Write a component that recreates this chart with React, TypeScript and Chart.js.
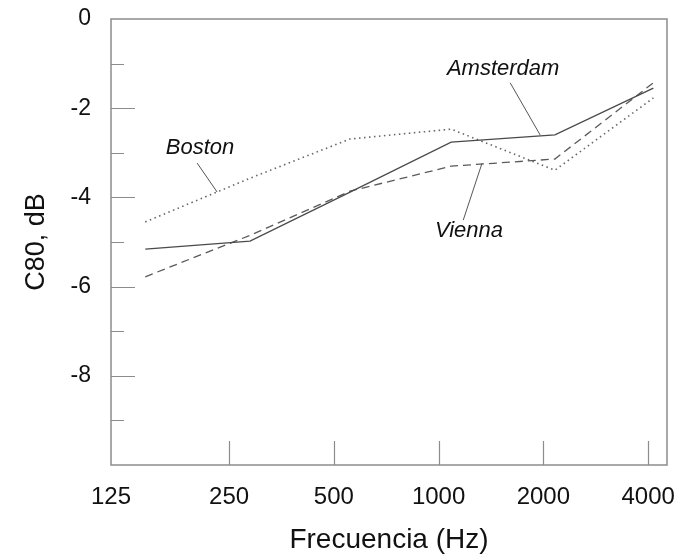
import React, { useEffect, useRef } from "react";
import { Chart, registerables } from "chart.js";

Chart.register(...registerables);

// Frequency tick labels and their positions on the octave axis
const tickLabels = ["125", "250", "500", "1000", "2000", "4000"];
const xMin = -0.127;
const xMax = 5.18;
const tickPositions = [xMin, 1, 2, 3, 4, 5];
const tickMarkPositions = [1, 2, 3, 4, 5];

// x positions of the plotted points (octave units)
const pointPositions = [0.2, 1.2, 2.155, 3.12, 4.11, 5.05];

// C80 values (dB)
const amsterdam = [-5.16, -4.98, -3.88, -2.76, -2.6, -1.55];
const vienna = [-5.78, -4.85, -3.86, -3.3, -3.14, -1.43];
const boston = [-4.55, -3.57, -2.69, -2.47, -3.39, -1.77];

// y ticks
const yMajor = [-2, -4, -6, -8];
const yMinor = [-1, -3, -5, -7, -9];

// labels with leader lines (data units)
const annLabels = ["Boston", "Amsterdam", "Vienna"];
const annTextX = [0.723, 3.616, 3.29];
const annTextY = [-2.89, -1.12, -4.75];
const annLineFromX = [0.695, 3.683, 3.415];
const annLineFromY = [-3.23, -1.43, -3.23];
const annLineToX = [0.886, 3.969, 3.235];
const annLineToY = [-3.88, -2.6, -4.51];

const FONT = "'Liberation Sans', Arial, sans-serif";

const framePlugin = {
  id: "frame",
  afterDraw(chart: any) {
    const { ctx, chartArea } = chart;
    const { left, right, top, bottom } = chartArea;
    const x = chart.scales.x;
    const y = chart.scales.y;
    ctx.save();
    ctx.strokeStyle = "#8c8c8c";
    ctx.lineWidth = 1.5;
    ctx.strokeRect(left, top, right - left, bottom - top);
    ctx.lineWidth = 1.2;
    ctx.beginPath();
    yMajor.forEach((v) => {
      const py = Math.round(y.getPixelForValue(v)) + 0.5;
      ctx.moveTo(left, py);
      ctx.lineTo(left + 24, py);
    });
    yMinor.forEach((v) => {
      const py = Math.round(y.getPixelForValue(v)) + 0.5;
      ctx.moveTo(left, py);
      ctx.lineTo(left + 13, py);
    });
    tickMarkPositions.forEach((v) => {
      const px = Math.round(x.getPixelForValue(v)) + 0.5;
      ctx.moveTo(px, bottom);
      ctx.lineTo(px, bottom - 24);
    });
    ctx.stroke();

    // annotations
    ctx.strokeStyle = "#555";
    ctx.lineWidth = 1;
    ctx.beginPath();
    annLabels.forEach((_, i) => {
      ctx.moveTo(x.getPixelForValue(annLineFromX[i]), y.getPixelForValue(annLineFromY[i]));
      ctx.lineTo(x.getPixelForValue(annLineToX[i]), y.getPixelForValue(annLineToY[i]));
    });
    ctx.stroke();
    ctx.fillStyle = "#111";
    ctx.font = `italic 22px ${FONT}`;
    ctx.textAlign = "center";
    ctx.textBaseline = "middle";
    annLabels.forEach((t, i) => {
      ctx.fillText(t, x.getPixelForValue(annTextX[i]), y.getPixelForValue(annTextY[i]));
    });
    ctx.restore();
  },
};

function toPoints(vals: number[]) {
  return vals.map((v, i) => ({ x: pointPositions[i], y: v }));
}

function zeroPad(s: any) {
  s.paddingTop = 0;
  s.paddingBottom = 0;
  s.paddingLeft = 0;
  s.paddingRight = 0;
}

export default function App() {
  const ref = useRef<HTMLCanvasElement | null>(null);
  useEffect(() => {
    if (!ref.current) return;
    const chart = new Chart(ref.current, {
      type: "line",
      data: {
        datasets: [
          {
            label: "Amsterdam",
            data: toPoints(amsterdam),
            borderColor: "#4a4a4a",
            borderWidth: 1.3,
            pointRadius: 0,
            fill: false,
            tension: 0,
          },
          {
            label: "Vienna",
            data: toPoints(vienna),
            borderColor: "#5a5a5a",
            borderWidth: 1.3,
            borderDash: [8, 5],
            pointRadius: 0,
            fill: false,
            tension: 0,
          },
          {
            label: "Boston",
            data: toPoints(boston),
            borderColor: "#666",
            borderWidth: 1.6,
            borderDash: [1.5, 3.5],
            pointRadius: 0,
            fill: false,
            tension: 0,
          },
        ],
      },
      options: {
        animation: false,
        responsive: false,
        devicePixelRatio: 1,
        layout: { padding: { top: 19, right: 14, left: 0, bottom: 0 } },
        plugins: {
          legend: { display: false },
          tooltip: { enabled: false },
        },
        scales: {
          x: {
            type: "linear",
            min: xMin,
            max: xMax,
            grid: { display: false, drawTicks: false },
            border: { display: false },
            afterBuildTicks: (s: any) => {
              s.ticks = tickPositions.map((v) => ({ value: v }));
            },
            afterFit: (s: any) => {
              s.height = 92;
              zeroPad(s);
            },
            ticks: {
              autoSkip: false,
              maxRotation: 0,
              padding: 18,
              color: "#111",
              font: { family: FONT, size: 24 },
              callback: (_v: any, i: number) => tickLabels[i],
            },
            title: {
              display: true,
              text: "Frecuencia (Hz)",
              color: "#111",
              font: { family: FONT, size: 28 },
              padding: { top: 0, bottom: 0 },
            },
          },
          y: {
            type: "linear",
            min: -10,
            max: 0,
            grid: { display: false, drawTicks: false },
            border: { display: false },
            afterFit: (s: any) => {
              s.width = 111;
              zeroPad(s);
            },
            ticks: {
              stepSize: 2,
              padding: 20,
              color: "#111",
              font: { family: FONT, size: 23 },
              callback: (v: any) => (v === -10 ? "" : String(v)),
            },
            title: {
              display: true,
              text: "C80, dB",
              color: "#111",
              font: { family: FONT, size: 27 },
              padding: { top: 20, bottom: 0 },
            },
          },
        },
      },
      plugins: [framePlugin],
    });
    return () => chart.destroy();
  }, []);
  return (
    <div style={{ position: "fixed", left: 0, top: 0, width: 681, height: 557, background: "#fff" }}>
      <canvas ref={ref} width={681} height={557} style={{ width: 681, height: 557, display: "block" }} />
    </div>
  );
}
